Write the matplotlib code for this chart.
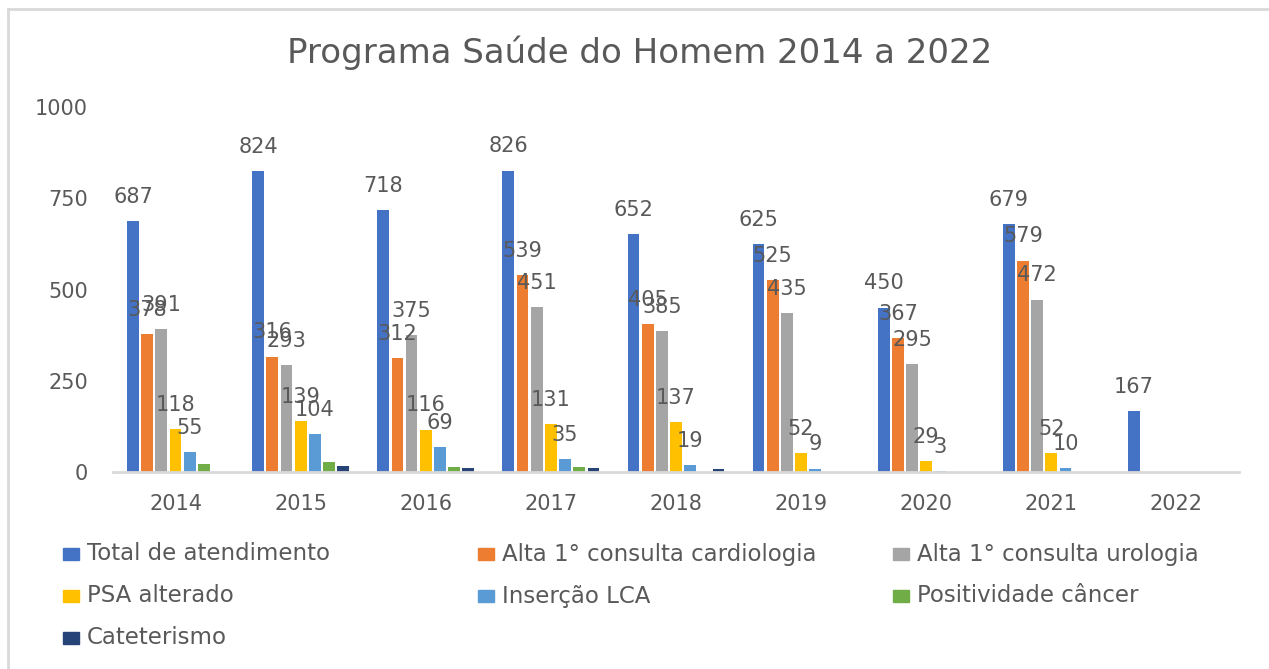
import matplotlib
matplotlib.use("Agg")
import matplotlib.pyplot as plt
from matplotlib.patches import Rectangle
from matplotlib.lines import Line2D
import numpy as np

# data
years = ["2014", "2015", "2016", "2017", "2018", "2019", "2020", "2021", "2022"]
total = [687, 824, 718, 826, 652, 625, 450, 679, 167]
cardiologia = [378, 316, 312, 539, 405, 525, 367, 579, 0]
urologia = [391, 293, 375, 451, 385, 435, 295, 472, 0]
psa = [118, 139, 116, 131, 137, 52, 29, 52, 0]
lca = [55, 104, 69, 35, 19, 9, 3, 10, 0]
positividade = [21, 28, 13, 13, 0, 0, 0, 0, 0]
cateterismo = [0, 17, 10, 10, 7, 0, 0, 0, 0]

series_names = ["Total de atendimento", "Alta 1° consulta cardiologia",
                "Alta 1° consulta urologia", "PSA alterado", "Inserção LCA",
                "Positividade câncer", "Cateterismo"]
series_values = [total, cardiologia, urologia, psa, lca, positividade, cateterismo]
colors = ["#4472C4", "#ED7D31", "#A5A5A5", "#FFC000", "#5B9BD5", "#70AD47", "#264478"]
# only the first five series carry data labels
labelled = [True, True, True, True, True, False, False]

W, H = 1269, 669
TXT = "#595959"
plt.rcParams["font.family"] = ["DejaVu Sans"]

fig = plt.figure(figsize=(W / 100, H / 100), dpi=100)
fig.patch.set_facecolor("white")

# plot area in pixels: x 113..1239, y 107..472
ax = fig.add_axes([113 / W, 1 - 472 / H, (1239 - 113) / W, (472 - 107) / H])

x = np.arange(len(years))
slot = 0.1134
width = 0.094
for i, (name, vals, col) in enumerate(zip(series_names, series_values, colors)):
    pos = x + (i - 3) * slot
    bars = ax.bar(pos, vals, width, color=col, label=name, zorder=2)
    if labelled[i]:
        for b, v in zip(bars, vals):
            if v > 0:
                ax.annotate(str(v), (b.get_x() + b.get_width() / 2, v),
                            xytext=(0, 17.5), textcoords="offset points",
                            ha="center", va="center", fontsize=15, color=TXT,
                            zorder=3)

ax.set_xlim(-0.5, len(years) - 0.5)
ax.set_ylim(0, 1000)
ax.set_yticks([0, 250, 500, 750, 1000])
ax.set_xticks(x)
ax.set_xticklabels(years)
for s in ["top", "right", "left"]:
    ax.spines[s].set_visible(False)
ax.spines["bottom"].set_color("#D9D9D9")
ax.spines["bottom"].set_linewidth(2)
ax.tick_params(axis="x", length=0, pad=15.5, labelsize=15, labelcolor=TXT)
ax.tick_params(axis="y", length=0, pad=18, labelsize=15, labelcolor=TXT)

fig.text(640 / W, 1 - 53 / H, "Programa Saúde do Homem 2014 a 2022",
         ha="center", va="center", fontsize=24.5, color=TXT)

# legend drawn row by row, three fixed-width columns
for i, (name, col) in enumerate(zip(series_names, colors)):
    r, c = divmod(i, 3)
    x0 = 63 + c * 415
    yc = 554 + r * 42
    fig.add_artist(Rectangle((x0 / W, 1 - (yc + 6) / H), 16 / W, 12 / H,
                             transform=fig.transFigure, color=col))
    fig.text((x0 + 24) / W, 1 - yc / H, name, ha="left", va="center",
             fontsize=16.5, color=TXT)

# light frame on the left and top edges
fig.add_artist(Line2D([8 / W, 8 / W], [0, 1 - 9 / H], transform=fig.transFigure,
                      color="#D9D9D9", lw=2))
fig.add_artist(Line2D([8 / W, 1], [1 - 9 / H, 1 - 9 / H], transform=fig.transFigure,
                      color="#D9D9D9", lw=2))

fig.savefig("out.png", dpi=100)
